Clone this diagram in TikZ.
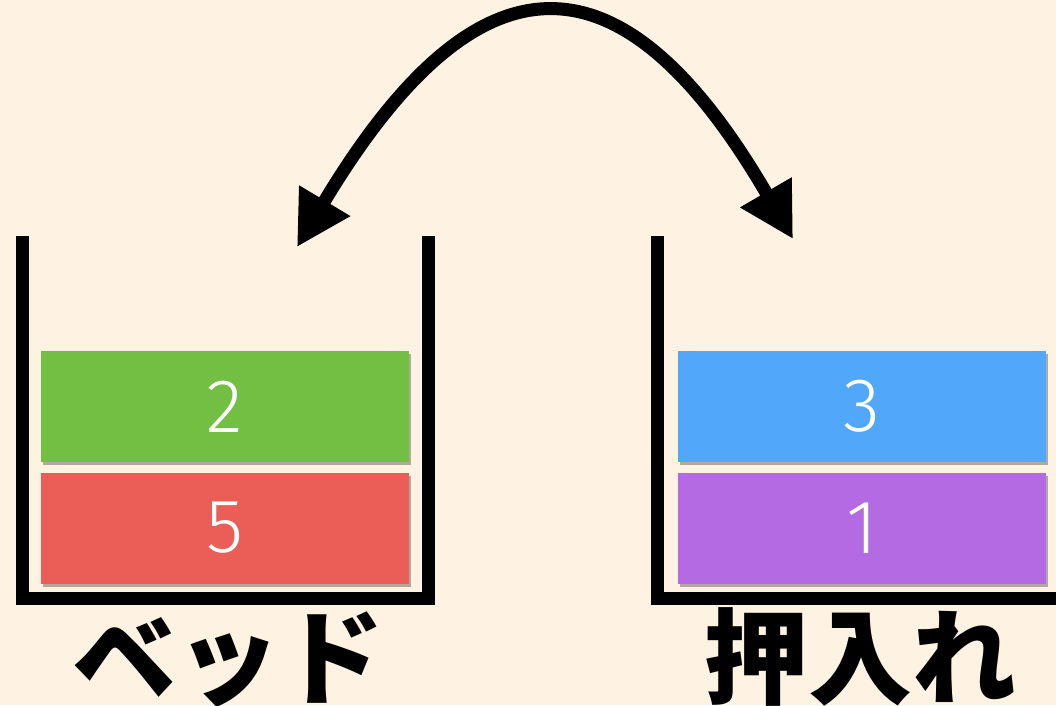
\documentclass[tikz,border=0pt]{standalone}
\usepackage{fontspec}
\newfontfamily\jpfont{Noto Sans CJK JP}
\newfontfamily\numfont{Fira Sans Light}
\usetikzlibrary{arrows.meta,shadows}
\definecolor{bgcol}{RGB}{254,243,226}
\definecolor{gcol}{RGB}{114,191,68}
\definecolor{rcol}{RGB}{235,94,87}
\definecolor{bcol}{RGB}{81,167,249}
\definecolor{pcol}{RGB}{179,106,226}
\tikzset{
  wall/.style={line width=13pt, line join=miter, black},
  box/.style={minimum width=368pt, minimum height=111pt, inner sep=0pt,
    text=white, font=\numfont\fontsize{76}{76}\selectfont,
    drop shadow={shadow xshift=1.5pt, shadow yshift=-3pt, fill=black, opacity=0.3}},
  swap/.style={line width=13pt, black, {Triangle[length=54pt,width=56pt]}-{Triangle[length=54pt,width=56pt]}},
  label/.style={anchor=base, inner sep=0pt, font=\jpfont\bfseries\fontsize{104}{104}\selectfont}
}
\begin{document}
\begin{tikzpicture}[x=1pt,y=-1pt]
\fill[bgcol] (0,0) rectangle (1056,705);
\useasboundingbox (0,0) rectangle (1056,705);
\clip (0,0) rectangle (1056,705);
% containers
\draw[wall] (22.5,236) -- (22.5,598.5) -- (428,598.5) -- (428,236);
\draw[wall] (657.5,236) -- (657.5,598.5) -- (1070,598.5);
% boxes
\node[box, fill=gcol] (two) at (225,406.5) {2};
\node[box, fill=rcol] (five) at (225,528) {5};
\node[box, fill=bcol] (three) at (862,406.5) {3};
\node[box, fill=pcol] (one) at (862,528) {1};
% labels
\node[label] (bed) at (228,696) {ベッド};
\node[label] (oshiire) at (860,696) {押入れ};
% swap arrow
\coordinate (la) at (297,247);
\coordinate (ra) at (793,239);
\draw[swap] (la) .. controls (478,-55) and (622,-55) .. (ra);
\end{tikzpicture}
\end{document}
